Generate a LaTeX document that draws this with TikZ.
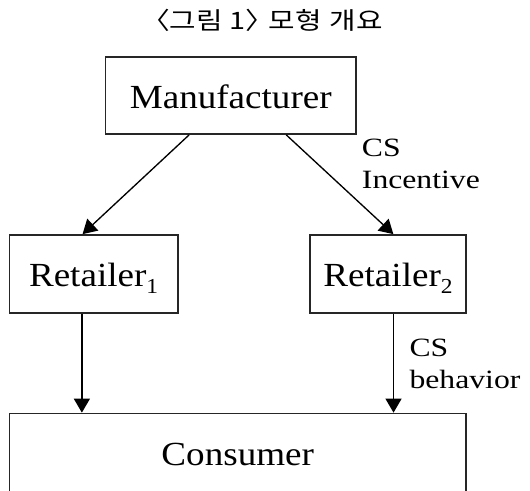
\documentclass[tikz,border=0pt]{standalone}
\usepackage{fontspec}
\setmainfont{Liberation Serif}
\newfontfamily\boxfont[FakeStretch=1.1]{Liberation Serif}
\newfontfamily\lblfont[FakeStretch=1.2]{Liberation Serif}
\newfontfamily\krfont[FakeStretch=1.2]{Noto Sans CJK KR}
\usetikzlibrary{arrows.meta,calc}
\newcommand{\subidx}[1]{\raisebox{-4.7pt}{\fontsize{16pt}{18pt}\selectfont #1}}
\tikzset{
  boxnode/.style={draw=black!85, line width=1.3pt, inner sep=0pt,
    font=\boxfont\fontsize{25.3pt}{30pt}\selectfont,
    text height=19.1pt, text depth=0pt},
  arr/.style={line width=1pt, -{Triangle[length=10.5pt,width=12pt]}},
  lbl/.style={inner sep=0pt, font=\lblfont\fontsize{19.8pt}{23.7pt}\selectfont},
}
\begin{document}
\begin{tikzpicture}[x=0.75pt,y=-0.75pt]
\useasboundingbox (0,0) rectangle (530,490);
\clip (0,0) rectangle (530,490);
\fill[white] (0,0) rectangle (530,490);
\node[font=\krfont\fontsize{18pt}{21pt}\selectfont, inner sep=0pt] (title) at (262,20) {〈그림\hspace{5pt}1〉\hspace{-4pt}모형\hspace{6pt}개요};
\node[boxnode, minimum width=187.9pt, minimum height=57.75pt] (man) at (230.75,95.5) {Manufacturer};
\node[boxnode, minimum width=126.15pt, minimum height=58.5pt] (r1) at (93.6,274) {Retailer\subidx{1}};
\node[boxnode, minimum width=117pt, minimum height=58.5pt] (r2) at (388,274) {Retailer\subidx{2}};
\node[boxnode, minimum width=342.4pt, minimum height=58.5pt] (cons) at (237.75,452.5) {Consumer};
\coordinate (a1) at ($(man.south west)!0.335!(man.south east)$);
\coordinate (b1) at ($(r1.north west)!0.435!(r1.north east)$);
\coordinate (a2) at ($(man.south west)!0.72!(man.south east)$);
\coordinate (b2) at ($(r2.north west)!0.534!(r2.north east)$);
\coordinate (c1) at ($(r1.south west)!0.431!(r1.south east)$);
\coordinate (c2) at ($(r2.south west)!0.535!(r2.south east)$);
\draw[arr] (a1) -- (b1);
\draw[arr] (a2) -- (b2);
\draw[arr] (c1) -- (c1 |- cons.north);
\draw[arr] (c2) -- (c2 |- cons.north);
\node[lbl, anchor=base west] (l1) at (361.7,156.7) {\begin{tabular}[t]{@{}l@{}}CS\\Incentive\end{tabular}};
\node[lbl, anchor=base west] (l2) at (409.3,356.7) {\begin{tabular}[t]{@{}l@{}}CS\\behavior\end{tabular}};
\end{tikzpicture}
\end{document}
